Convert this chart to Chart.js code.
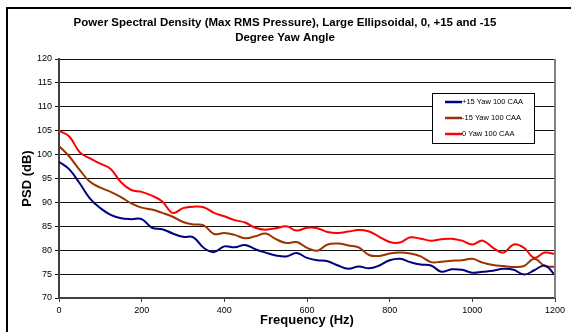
<!DOCTYPE html>
<html>
<head>
<meta charset="utf-8">
<script src="https://cdn.jsdelivr.net/npm/chart.js@4.4.0/dist/chart.umd.min.js"></script>
<style>
  html, body { margin: 0; padding: 0; background: #fff; }
  #wrap { width: 571px; height: 332px; }
</style>
</head>
<body>
<div id="wrap"><canvas id="psdChart" width="571" height="332"></canvas></div>
<script>
// frequency (Hz), every 25 Hz
const freqs = [0, 25, 50, 75, 100, 125, 150, 175, 200, 225, 250, 275, 300, 325, 350, 375, 400,
  425, 450, 475, 500, 525, 550, 575, 600, 625, 650, 675, 700, 725, 750, 775, 800,
  825, 850, 875, 900, 925, 950, 975, 1000, 1025, 1050, 1075, 1100, 1125, 1150, 1175, 1200];

const plus15 = [98.5, 96.9, 94.0, 90.8, 88.8, 87.4, 86.7, 86.5, 86.5, 84.7, 84.4, 83.5, 82.8, 82.7, 80.5, 79.6, 80.8,
  80.6, 81.1, 80.2, 79.5, 78.9, 78.7, 79.4, 78.4, 77.9, 77.7, 76.8, 76.1, 76.6, 76.2, 76.8, 77.9,
  78.2, 77.5, 77.0, 76.8, 75.5, 76.0, 75.9, 75.3, 75.5, 75.7, 76.1, 75.9, 74.9, 75.8, 76.8, 74.8];

const minus15 = [101.8, 99.6, 96.8, 94.3, 93.1, 92.2, 91.1, 89.8, 88.9, 88.5, 87.8, 87.0, 85.9, 85.4, 85.2, 83.4, 83.6,
  83.2, 82.5, 82.9, 83.5, 82.3, 81.5, 81.7, 80.5, 79.9, 81.2, 81.4, 81.0, 80.6, 79.0, 78.8, 79.3,
  79.5, 79.3, 78.7, 77.5, 77.6, 77.8, 77.9, 78.2, 77.4, 76.9, 76.7, 76.5, 76.7, 78.2, 76.7, 76.5];

const zeroYaw = [105.0, 103.8, 100.5, 99.2, 98.1, 97.0, 94.2, 92.6, 92.2, 91.4, 90.2, 87.8, 88.8, 89.1, 89.0, 87.8, 87.1,
  86.3, 85.8, 84.7, 84.3, 84.6, 85.0, 84.1, 84.7, 84.6, 83.8, 83.6, 83.9, 84.2, 83.9, 82.8, 81.7,
  81.6, 82.7, 82.4, 82.0, 82.3, 82.4, 82.0, 81.2, 82.0, 80.5, 79.5, 81.2, 80.5, 78.4, 79.5, 79.2];

const seriesNames = ['+15 Yaw 100 CAA', '-15 Yaw 100 CAA', '0 Yaw 100 CAA'];
const seriesColors = ['#000080', '#993300', '#ff0000'];
const titleLines = ['Power Spectral Density (Max RMS Pressure), Large Ellipsoidal, 0, +15 and -15', 'Degree Yaw Angle'];

const FONT = '"Liberation Sans", Arial, sans-serif';
const toPoints = (vals) => vals.map((v, i) => ({ x: freqs[i], y: v }));

// title, frame, right border of the plot, legend box inside the plot
const decorations = {
  id: 'decorations',
  afterDraw(chart) {
    const ctx = chart.ctx;
    const area = chart.chartArea;
    ctx.save();
    // outer frame (only left and top visible)
    ctx.strokeStyle = '#000';
    ctx.lineWidth = 2;
    ctx.beginPath();
    ctx.moveTo(7, 332);
    ctx.lineTo(7, 8);
    ctx.lineTo(571, 8);
    ctx.stroke();

    // title
    ctx.fillStyle = '#000';
    ctx.font = 'bold 11.5px ' + FONT;
    ctx.textAlign = 'center';
    ctx.textBaseline = 'middle';
    titleLines.forEach((t, i) => ctx.fillText(t, 285, 23 + i * 15));

    // right edge of plot
    ctx.strokeStyle = '#808080';
    ctx.lineWidth = 2;
    ctx.beginPath();
    ctx.moveTo(area.right, area.top);
    ctx.lineTo(area.right, area.bottom);
    ctx.stroke();

    // legend
    const lx = area.right - 123, ly = area.top + 34, lw = 102, lh = 50;
    ctx.fillStyle = '#fff';
    ctx.fillRect(lx, ly, lw, lh);
    ctx.strokeStyle = '#000';
    ctx.lineWidth = 1;
    ctx.strokeRect(lx + 0.5, ly + 0.5, lw, lh);
    ctx.font = '7.5px ' + FONT;
    ctx.textAlign = 'left';
    ctx.textBaseline = 'middle';
    chart.data.datasets.forEach((ds, i) => {
      const y = ly + 9 + i * 16;
      ctx.strokeStyle = ds.borderColor;
      ctx.lineWidth = 2.5;
      ctx.beginPath();
      ctx.moveTo(lx + 13, y);
      ctx.lineTo(lx + 30, y);
      ctx.stroke();
      ctx.fillStyle = '#000';
      ctx.fillText(ds.label, lx + 30, y);
    });
    ctx.restore();
  }
};

const ctx = document.getElementById('psdChart').getContext('2d');
new Chart(ctx, {
  type: 'line',
  data: {
    datasets: seriesNames.map((name, i) => ({
      label: name,
      data: toPoints([plus15, minus15, zeroYaw][i]),
      borderColor: seriesColors[i],
      backgroundColor: seriesColors[i],
      borderWidth: 2,
      pointRadius: 0,
      tension: 0.4,
      fill: false
    }))
  },
  options: {
    responsive: false,
    animation: false,
    layout: { padding: { left: 0, right: 16, top: 59, bottom: 0 } },
    plugins: {
      legend: { display: false },
      tooltip: { enabled: false },
      title: { display: false }
    },
    scales: {
      x: {
        type: 'linear',
        min: 0,
        max: 1200,
        ticks: {
          stepSize: 200,
          color: '#000',
          padding: 3,
          maxRotation: 0,
          font: { family: FONT, size: 9 },
          callback: (v) => String(v)
        },
        grid: { drawOnChartArea: false, drawTicks: true, tickLength: 4, color: '#404040' },
        border: { color: '#404040', width: 2 },
        title: {
          display: true,
          text: 'Frequency (Hz)',
          color: '#000',
          font: { family: FONT, size: 13, weight: 'bold' },
          padding: { top: 2, bottom: 4 }
        },
        afterFit(scale) { scale.height = 34; }
      },
      y: {
        min: 70,
        max: 120,
        ticks: {
          stepSize: 5,
          color: '#000',
          padding: 3,
          font: { family: FONT, size: 9 }
        },
        grid: { color: '#111', lineWidth: 1, tickLength: 4 },
        border: { color: '#404040', width: 2 },
        title: {
          display: true,
          text: 'PSD (dB)',
          color: '#000',
          font: { family: FONT, size: 13, weight: 'bold' },
          padding: { top: 20, bottom: 0 }
        },
        afterFit(scale) { scale.width = 59; }
      }
    }
  },
  plugins: [decorations]
});
</script>
</body>
</html>
